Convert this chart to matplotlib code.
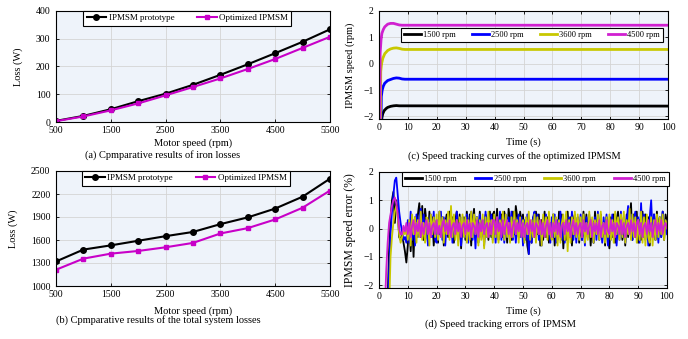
import matplotlib
matplotlib.use('Agg')
import matplotlib.pyplot as plt
import numpy as np

plt.rcParams['font.family'] = ['Liberation Serif', 'DejaVu Serif']
plt.rcParams['mathtext.fontset'] = 'stix'

#---------- DATA --------------------------------------------------------------
speed = [500, 1000, 1500, 2000, 2500, 3000, 3500, 4000, 4500, 5000, 5500]
iron_proto = [4, 22, 46, 75, 102, 134, 170, 208, 248, 289, 334]
iron_opt = [3, 20, 42, 67, 96, 126, 157, 191, 227, 267, 307]
total_proto = [1320, 1475, 1530, 1590, 1650, 1705, 1807, 1895, 2010, 2165, 2400]
total_opt = [1212, 1357, 1422, 1457, 1505, 1562, 1685, 1755, 1868, 2021, 2245]

rpm_labels = ['1500 rpm', '2500 rpm', '3600 rpm', '4500 rpm']

# speed tracking curves (time in s, speed in axis units)
trk_t = [
    [0, 0.9, 1.0, 1.3, 1.8, 2.5, 3, 4, 5, 6, 7, 100],
    [0, 0.7, 0.8, 1.1, 1.5, 2, 3, 4, 5, 6, 7, 8, 9, 100],
    [0, 0.5, 0.6, 0.9, 1.3, 2, 3, 4, 5, 6, 7, 8, 9, 100],
    [0, 0.3, 0.4, 0.7, 1.0, 1.5, 2, 3, 4, 5, 6, 7, 8, 100],
]
trk_y = [
    [-2.2, -2.2, -2.05, -1.9, -1.78, -1.7, -1.66, -1.62, -1.6, -1.59, -1.6, -1.61],
    [-2.2, -2.2, -1.25, -1.0, -0.85, -0.74, -0.64, -0.6, -0.56, -0.54, -0.55, -0.58, -0.59, -0.59],
    [-2.2, -2.2, -0.3, 0.0, 0.2, 0.38, 0.5, 0.56, 0.59, 0.6, 0.58, 0.55, 0.54, 0.54],
    [-2.2, -2.2, 0.4, 0.9, 1.15, 1.3, 1.4, 1.5, 1.53, 1.53, 1.5, 1.47, 1.46, 1.46],
]

# speed errors, sampled every 0.5 s from 2 s to 100 s, values in 0.1 %
err_t = np.arange(2.0, 100.01, 0.5)
err_1500 = [-30, -30, -25, -8, 3, 10, 13, 2, 10, 6, -3, -4, -2, -5, -8, -12,
    -6, 2, -8, 3, -10, 4, -2, 5, 9, -3, 8, -4, 7, 2, -5, 6, -3, 4, -6, 1,
    3, -5, 6, -2, 4, -6, 2, 5, -3, 6, -1, 4, -5, 3, 6, -2, 5, -7, 2, 4,
    -4, 6, -2, 5, -6, 3, 7, -3, 4, -5, 6, -2, 3, -6, 5, 2, -4, 6, -3, 5,
    6, -2, 7, -4, 3, 5, -3, 6, 2, -5, 7, 3, -4, 6, -2, 8, 4, -3, 6, 2,
    5, -4, 3, -6, -9, 2, -5, 4, -3, 6, -2, 5, -6, 3, -4, 6, -3, 4, -5, 2,
    -3, 5, -6, 3, -4, 6, -2, 5, -7, 2, -4, 6, -3, 4, -6, 3, 5, -2, 4, -5,
    3, -4, 6, -3, 5, -2, 4, -6, 3, -5, 6, -2, 4, -4, 5, -3, 2, -6, 4, -3,
    -7, 4, -3, 5, -5, 3, 6, -2, 4, -4, 2, -6, 5, -3, 3, 9, -4, 5, -3, 6,
    -5, 3, -4, 6, -3, 5, -2, 4, -6, 3, -3, 5, -4, 6, -2, 4, -3, 6, -4, 5,
    2]
err_2500 = [-30, -30, -30, -15, -2, 6, 12, 17, 18, 12, 6, 2, -1, -4, -3, -5,
    3, -5, 6, -4, 2, -6, 5, -3, 4, 7, -2, 5, -4, 3, -6, 2, 5, -3, 6, -4,
    -5, 3, -2, 6, -4, 4, -6, 2, 5, -3, 4, -5, 3, -2, 6, -4, 2, -6, 4, 3,
    -3, 5, -5, 2, 6, -4, 3, -7, 4, -2, 5, -3, 2, -5, 6, -3, 4, -2, 5, -4,
    3, -5, 4, -2, 6, -4, 2, -5, 5, -3, 4, -2, 6, -4, 3, -5, 2, 5, -3, 4,
    -6, 3, -4, 5, -9, 2, -5, 4, 6, -3, 5, -4, 2, -6, 4, -2, 5, -3, 3, -5,
    4, -3, 5, -5, 3, -2, 6, -4, 2, -5, 5, -3, 4, -2, 6, -4, 3, -5, 4, -3,
    5, -4, 2, -6, 4, -3, 5, -2, 3, -5, 4, -4, 6, -3, 2, -5, 4, -2, 5, -6,
    3, -4, 5, -3, 4, -6, 2, -4, 6, -3, 4, -5, 3, 8, -2, 5, -4, 3, 6, -3,
    4, -5, 9, -3, 5, -4, 3, -6, 4, 10, -2, 5, -4, 3, -5, 4, -3, 6, -2, 3,
    -2]
err_3600 = [-30, -30, -30, -30, -10, -3, 2, 6, 8, 4, -2, -5, -3, -1, -2, 0,
    -4, 3, -6, 5, -2, 4, -5, 3, -3, 6, -4, 2, -5, 4, 3, -6, 5, -2, 4, -3,
    5, -4, 6, -3, 4, -5, 3, -2, 6, -4, 8, -3, 5, -4, 3, -6, 4, -2, 5, -3,
    4, -5, 3, -4, 6, -3, 5, -2, 4, -6, 3, -4, 5, -7, 4, -3, 6, -2, 3, -5,
    5, -3, 4, -5, 3, -2, 6, -4, 5, -3, 2, -5, 4, -3, 6, -2, 3, -5, 4, -3,
    3, -5, 4, -2, 6, -4, 3, -3, 5, -5, 4, -2, 3, -6, 5, -3, 4, -4, 6, -2,
    -4, 5, -3, 4, -6, 3, -5, 2, 5, -4, 6, -8, 3, -5, 4, -2, 6, -3, 5, -4,
    4, -3, 5, -5, 2, -4, 6, -3, 4, -5, 3, -2, 5, -4, 6, -3, 2, -5, 4, -3,
    5, -4, 3, -5, 6, -2, 4, -4, 5, -3, 6, -5, 3, -2, 7, -4, 5, -3, 4, -5,
    3, -4, 6, -5, 4, -6, 5, -3, -5, 4, -6, 3, -4, 5, -3, 4, -2, 5, -4, 3,
    1]
err_4500 = [-30, -15, -5, 2, 5, 8, 10, 11, 9, 5, 0, -2, -2, 1, -1, 2,
    -2, 2, -3, 1, 3, -2, 2, -1, 3, -3, 2, -2, 1, 3, -2, 2, -3, 1, 2, -2,
    3, -2, 1, -3, 2, 3, -1, 2, -2, 3, -3, 1, 2, -2, 3, -1, 2, -3, 1, 2,
    -2, 3, -1, 2, -3, 2, 1, -2, 3, -3, 2, -1, 3, -2, 1, 2, -3, 2, -2, 3,
    3, -2, 4, -1, 2, -3, 3, -2, 1, 3, -2, 2, -3, 1, 3, -2, 2, -1, 3, -3,
    2, -3, 1, 2, -2, 3, -1, 2, -3, 2, 1, -2, 3, -2, 2, -3, 1, 3, -2, 2,
    -3, 2, -1, 3, -2, 2, -3, 1, 2, -2, 3, -1, 2, -3, 1, 3, -2, 2, -2, 1,
    2, -3, 3, -1, 2, -2, 1, 3, -3, 2, -1, 2, -2, 3, -3, 1, 2, -2, 3, -1,
    -2, 3, -1, 2, -3, 2, 1, -2, 3, -2, 2, -3, 1, 2, -2, 3, -1, 2, -3, 2,
    3, -2, 2, -3, 1, 2, -2, 3, -1, 2, -3, 1, 3, -2, 2, -1, 3, -2, 1, 2,
    0]
errs = [err_1500, err_2500, err_3600, err_4500]
#------------------------------------------------------------------------------

W, H = 688, 339
col_proto = 'k'
col_opt = '#c800c8'
rpm_cols = ['k', '#0000ff', '#c8c800', '#d020d0']
bg = '#eef3fa'


def rect(l, t, r, b):
    return [l / W, 1 - b / H, (r - l) / W, (b - t) / H]


def style(ax):
    ax.set_facecolor(bg)
    ax.grid(color='#d4d4d4', linewidth=0.6)
    ax.set_axisbelow(True)
    ax.tick_params(direction='in', top=True, right=True, labelsize=7,
                   length=2.5, width=0.6)
    ax.tick_params(axis='x', pad=3)
    ax.tick_params(axis='y', pad=4)
    for s in ax.spines.values():
        s.set_linewidth(0.8)


def box_legend(ax, anchor, ncol, fs, hl, cs):
    leg = ax.legend(loc='upper left', bbox_to_anchor=anchor, ncol=ncol, fontsize=fs,
                    frameon=True, fancybox=False, edgecolor='k', framealpha=1,
                    borderaxespad=0, handlelength=hl, columnspacing=cs,
                    borderpad=0.35, handletextpad=0.25)
    leg.get_frame().set_linewidth(0.8)
    return leg


fig = plt.figure(figsize=(W / 100, H / 100), dpi=100)

# (a) iron losses
ax1 = fig.add_axes(rect(56, 11, 330, 122))
style(ax1)
ax1.plot(speed, iron_proto, '-o', color=col_proto, lw=1.5, ms=4, label='IPMSM prototype')
ax1.plot(speed, iron_opt, '-s', color=col_opt, lw=1.5, ms=3.5, label='Optimized IPMSM')
ax1.set_xlim(500, 5500)
ax1.set_ylim(0, 400)
ax1.set_xticks([500, 1500, 2500, 3500, 4500, 5500])
ax1.set_yticks([0, 100, 200, 300, 400])
ax1.set_xlabel('Motor speed (rpm)', fontsize=7.5, labelpad=2)
ax1.set_ylabel('Loss (W)', fontsize=7.5)
ax1.yaxis.set_label_coords(-0.12, 0.5)
box_legend(ax1, (0.10, 1.0), 2, 6.5, 2.2, 2.5)

# (b) total losses
ax2 = fig.add_axes(rect(56, 171, 330, 286))
style(ax2)
ax2.plot(speed, total_proto, '-o', color=col_proto, lw=1.5, ms=4, label='IPMSM prototype')
ax2.plot(speed, total_opt, '-s', color=col_opt, lw=1.5, ms=3.5, label='Optimized IPMSM')
ax2.set_xlim(500, 5500)
ax2.set_ylim(1000, 2500)
ax2.set_xticks([500, 1500, 2500, 3500, 4500, 5500])
ax2.set_yticks([1000, 1300, 1600, 1900, 2200, 2500])
ax2.set_xlabel('Motor speed (rpm)', fontsize=7.5, labelpad=5)
ax2.set_ylabel('Loss (W)', fontsize=7.5)
ax2.yaxis.set_label_coords(-0.139, 0.5)
box_legend(ax2, (0.095, 1.0), 2, 6.5, 2.2, 2.5)

# (c) speed tracking curves
ax3 = fig.add_axes(rect(379, 11, 668, 119))
style(ax3)
for t, y, c, lab in zip(trk_t, trk_y, rpm_cols, rpm_labels):
    ax3.plot(t, y, color=c, lw=2.0, label=lab)
ax3.set_xlim(0, 100)
ax3.set_ylim(-2.1, 2.0)
ax3.set_xticks(np.arange(0, 101, 10))
ax3.set_yticks([-2, -1, 0, 1, 2])
ax3.set_xlabel('Time (s)', fontsize=7.5, labelpad=4)
ax3.set_ylabel('IPMSM speed (rpm)', fontsize=7.5)
ax3.yaxis.set_label_coords(-0.083, 0.5)
box_legend(ax3, (0.076, 0.843), 4, 6, 2.0, 2.0)

# (d) speed tracking errors
ax4 = fig.add_axes(rect(379, 172, 667, 288))
style(ax4)
for e, c, lab in zip(errs, rpm_cols, rpm_labels):
    ax4.plot(err_t, np.array(e) / 10.0, color=c, lw=1.3, label=lab)
ax4.set_xlim(0, 100)
ax4.set_ylim(-2.1, 2.0)
ax4.set_xticks(np.arange(0, 101, 10))
ax4.set_yticks([-2, -1, 0, 1, 2])
ax4.set_xlabel('Time (s)', fontsize=7.5, labelpad=4)
ax4.set_ylabel('IPMSM speed error (%)', fontsize=8.5)
ax4.yaxis.set_label_coords(-0.08, 0.5)
leg = box_legend(ax4, (0.08, 1.0), 4, 6, 2.0, 2.2)
for h in leg.legend_handles:
    h.set_linewidth(2.0)

# captions
cap = dict(ha='center', va='center', fontsize=7.5)
fig.text(163 / W, 1 - 155 / H, '(a) Cpmparative results of iron losses', **cap)
fig.text(158 / W, 1 - 320 / H, '(b) Cpmparative results of the total system losses', **cap)
fig.text(514 / W, 1 - 156 / H, '(c) Speed tracking curves of the optimized IPMSM', **cap)
fig.text(500 / W, 1 - 324 / H, '(d) Speed tracking errors of IPMSM', **cap)

fig.savefig('out.png', dpi=100)
